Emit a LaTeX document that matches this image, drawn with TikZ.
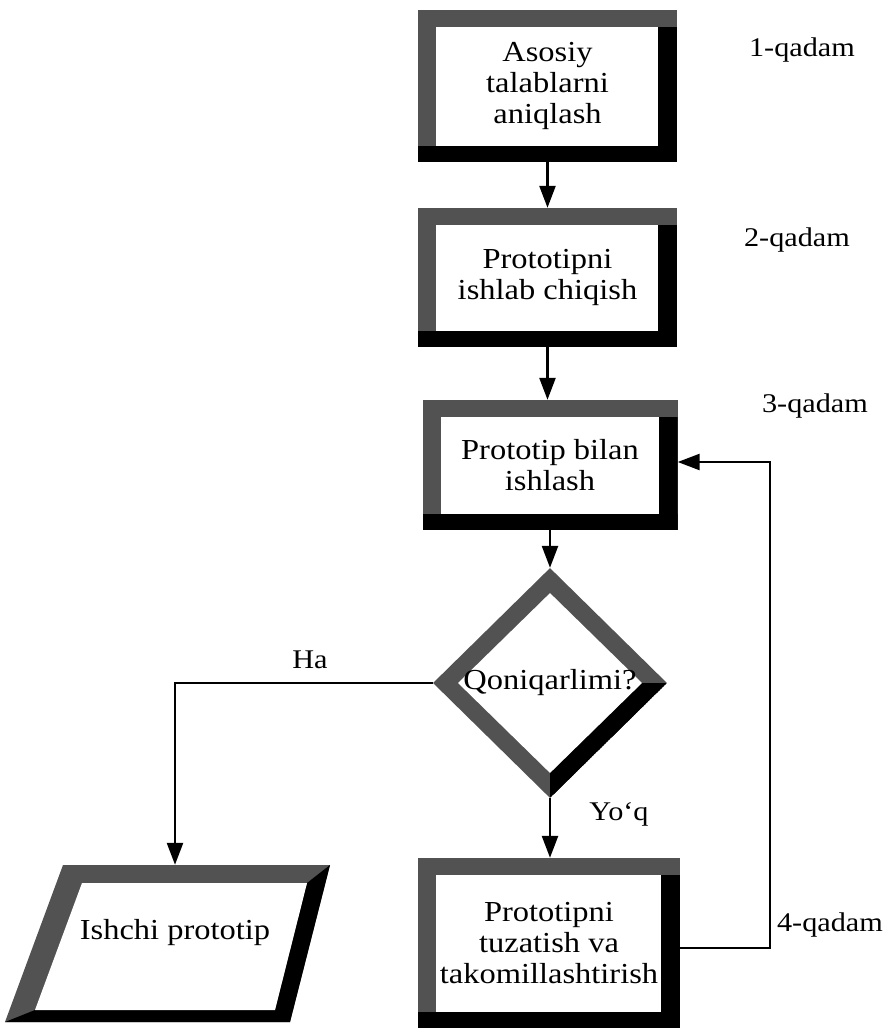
\documentclass[tikz,border=0pt]{standalone}
\usepackage{fontspec}
\setmainfont{Liberation Serif}[FakeStretch=1.12]
\usetikzlibrary{arrows.meta,shapes.geometric,calc}
\begin{document}
\begin{tikzpicture}[x=1pt,y=-1pt,
  txt/.style={font=\fontsize{29}{31}\selectfont, align=center},
  lab/.style={font=\fontsize{27}{30}\selectfont, inner sep=0pt},
  framebox/.style={rectangle, fill=black!68, inner sep=0pt, txt,
    path picture={
      \fill[black] ($(path picture bounding box.north east)+(-19pt,-17pt)$) rectangle (path picture bounding box.south east);
      \fill[black] (path picture bounding box.south west) rectangle ($(path picture bounding box.south east)+(0,16pt)$);
      \fill[white] ($(path picture bounding box.north west)+(18pt,-17pt)$) rectangle ($(path picture bounding box.south east)+(-19pt,16pt)$);
    }},
  framediamond/.style={diamond, aspect=1, fill=black!68, inner sep=0pt, txt,
    path picture={
      \fill[black] (path picture bounding box.east) -- (path picture bounding box.south) -- ($(path picture bounding box.south)+(0,25pt)$) -- ($(path picture bounding box.east)+(-25pt,0)$) -- cycle;
      \fill[white] ($(path picture bounding box.north)+(0,-25pt)$) -- ($(path picture bounding box.east)+(-25pt,0)$) -- ($(path picture bounding box.south)+(0,25pt)$) -- ($(path picture bounding box.west)+(25pt,0)$) -- cycle;
    }},
  arr/.style={line width=2.5pt, -{Triangle[length=22pt,width=16pt]}}
]
\fill[white] (0,0) rectangle (888,1031);
\useasboundingbox (0,0) rectangle (888,1031);

% boxes
\node[framebox, minimum width=259pt, minimum height=152pt] (b1) at (547.5,86) {Asosiy\\talablarni\\aniqlash};
\node[framebox, minimum width=259pt, minimum height=139pt] (b2) at (547.5,277.5) {Prototipni\\ishlab chiqish};
\node[framebox, minimum width=255pt, minimum height=130pt] (b3) at (550,465) {Prototip bilan\\ishlash};
\node[framediamond, minimum width=234pt, minimum height=230pt] (d) at (550,683) {Qoniqarlimi?};
\node[framebox, minimum width=262pt, minimum height=170pt] (b4) at (549,943) {Prototipni\\tuzatish va\\takomillashtirish};

% parallelogram frame
\fill[black!68] (63,865) -- (330,865) -- (290,1022) -- (5,1022) -- cycle;
\fill[black] (330,865) -- (290,1022) -- (5,1022) -- (35,1010) -- (275,1010) -- (307,883) -- cycle;
\fill[white] (82,883) -- (307,883) -- (275,1010) -- (35,1010) -- cycle;
\node[txt, minimum height=136pt, inner sep=0pt] (p) at (175,933) {Ishchi prototip};

% connectors
\draw[arr] (b1.south) -- (b2.north -| b1.south);
\draw[arr] (b2.south) -- (b3.north -| b2.south);
\draw[arr] (b3.south) -- (d.north);
\draw[arr] (d.south) -- (b4.north -| d.south);
\draw[arr] (d.west) -| (p.north);
\draw[arr] ($(b4.east)+(0,5)$) -- ++(90pt,0) |- ($(b3.east)+(0,-3)$);

% labels
\node[lab] (q1) at (802,50) {1-qadam};
\node[lab] (q2) at (797,240) {2-qadam};
\node[lab] (q3) at (815,406) {3-qadam};
\node[lab] (ha) at (310,660) {Ha};
\node[lab] (yq) at (619,814) {Yo‘q};
\node[lab] (q4) at (830,925) {4-qadam};
\end{tikzpicture}
\end{document}
